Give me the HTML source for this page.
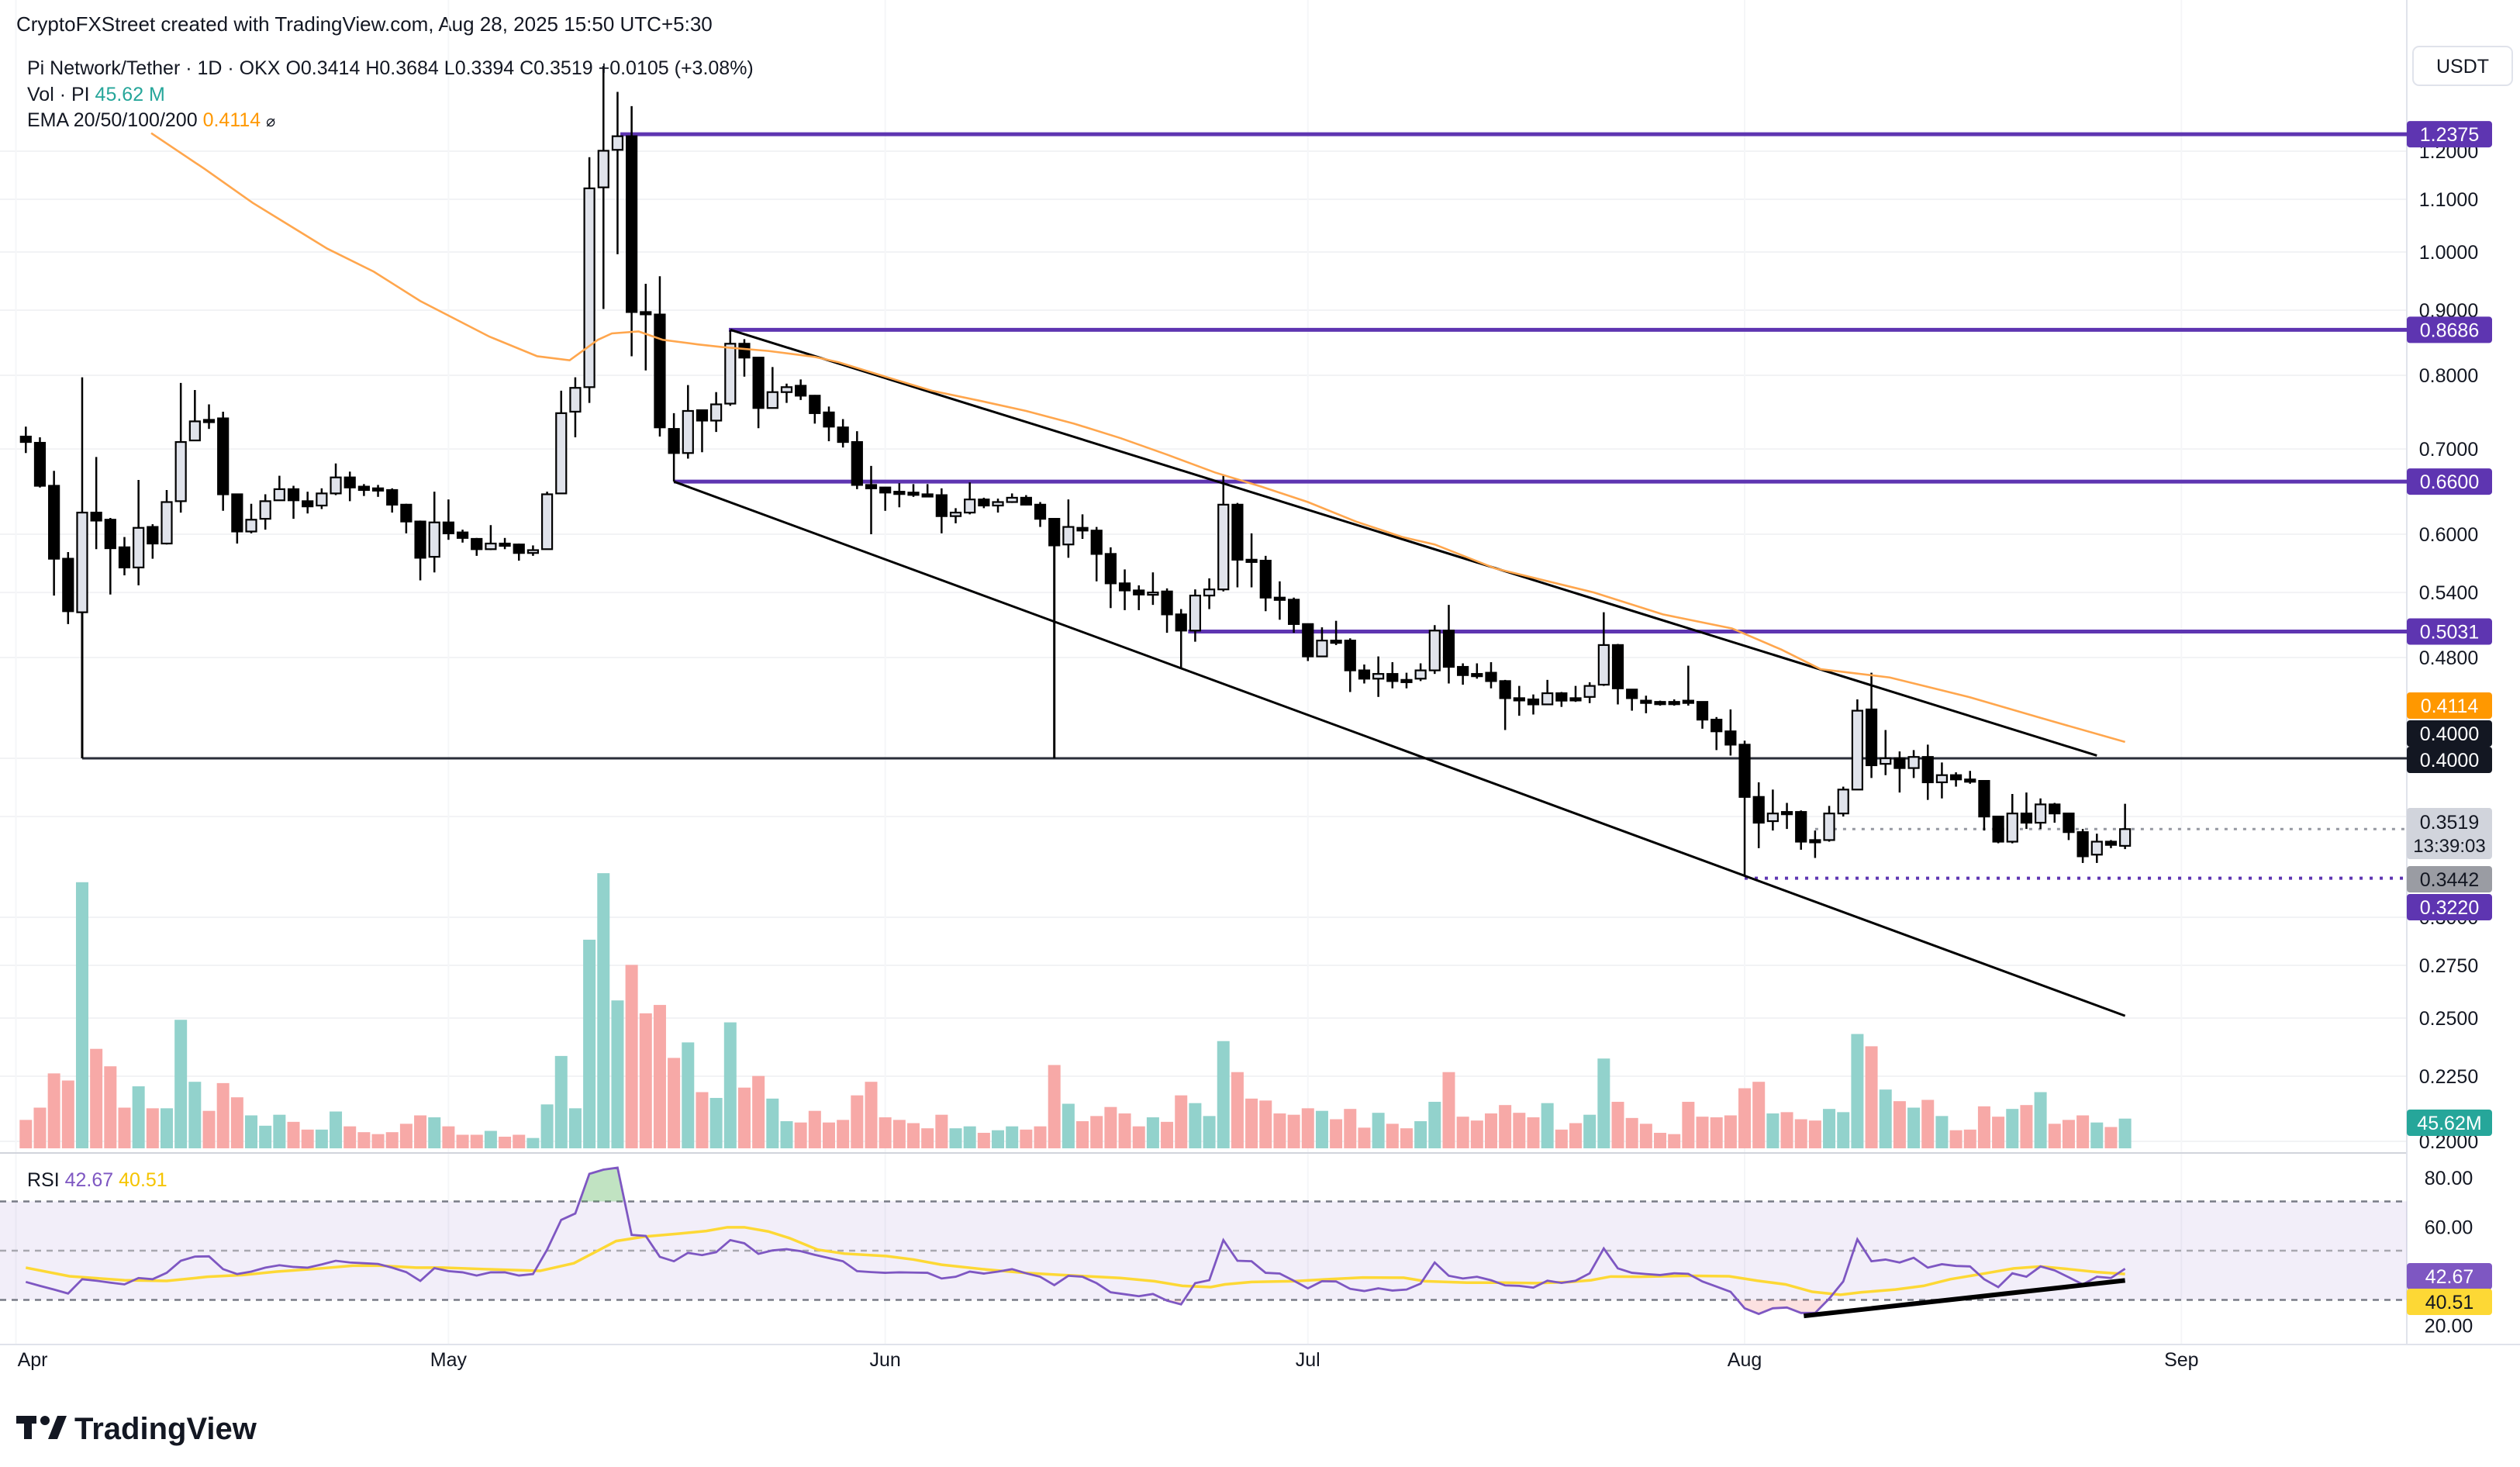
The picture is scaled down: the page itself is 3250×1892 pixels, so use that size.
<!DOCTYPE html>
<html><head><meta charset="utf-8"><style>
html,body{margin:0;padding:0;background:#fff;}
svg{display:block;font-family:"Liberation Sans",sans-serif;}
</style></head><body>
<svg id="chart" xmlns="http://www.w3.org/2000/svg" width="3250" height="1892" viewBox="0 0 3250 1892">
<rect x="0" y="0" width="3250" height="1892" fill="#ffffff"/>
<text x="21" y="40" font-size="26" fill="#131722">CryptoFXStreet created with TradingView.com, Aug 28, 2025 15:50 UTC+5:30</text>
<g id="grid"></g>
<g id="rsiPane"></g>
<g id="volume"></g>
<g id="drawings"></g>
<g id="candles"></g>
<g id="overlay"></g>
<g id="axis"></g>
<text x="35" y="96" font-size="25" fill="#131722">Pi Network/Tether · 1D · OKX  <tspan>O0.3414</tspan>  <tspan>H0.3684</tspan>  <tspan>L0.3394</tspan>  <tspan>C0.3519</tspan>  <tspan>+0.0105 (+3.08%)</tspan></text>
<text x="35" y="130" font-size="25" fill="#131722">Vol · PI  <tspan fill="#26a69a">45.62 M</tspan></text>
<text x="35" y="163" font-size="25" fill="#131722">EMA 20/50/100/200  <tspan fill="#ff9800">0.4114</tspan>  <tspan font-size="20">⌀</tspan></text>
<text x="35" y="1530" font-size="25" fill="#131722">RSI  <tspan fill="#7e57c2">42.67</tspan>  <tspan fill="#f5c400">40.51</tspan></text>
<rect x="3112" y="60" width="128" height="50" rx="8" fill="#fff" stroke="#e0e3eb" stroke-width="2"/>
<text x="3176" y="94" font-size="25" text-anchor="middle" fill="#131722">USDT</text>
<g>
<rect x="21" y="1826" width="26" height="10" fill="#131722"/><rect x="31" y="1826" width="10" height="30" fill="#131722"/><circle cx="58" cy="1832" r="6" fill="#131722"/><polygon points="62,1856 74,1826 86,1826 74,1856" fill="#131722"/>
<text x="96" y="1856" font-size="40" font-weight="bold" fill="#131722">TradingView</text>
</g>
</svg>
<script>
// ---------- data ----------
const openP=[.716,.708,.655,.574,.521,.624,.616,.586,.565,.608,.590,.637,.711,.738,.740,.645,.603,.617,.638,.651,.637,.632,.646,.665,.654,.652,.650,.633,.614,.576,.613,.602,.595,.584,.590,.589,.580,.584,.646,.749,.783,1.124,1.203,1.233,.897,.893,.726,.695,.751,.737,
.760,.847,.826,.754,.776,.785,.771,.748,.728,.709,.656,.653,.648,.647,.645,.644,.620,.624,.639,.632,.636,.641,.633,.617,.589,.607,.604,.579,.549,.542,.538,.541,.519,.504,.537,.543,.633,.573,.572,.535,.533,.510,.481,.495,.495,.469,.462,.466,.461,.462,
.469,.504,.472,.466,.467,.460,.446,.445,.441,.450,.446,.447,.457,.491,.453,.444,.443,.443,.444,.443,.429,.420,.410,.373,.357,.363,.363,.345,.345,.362,.378,.437,.396,.400,.393,.401,.383,.388,.385,.384,.360,.344,.362,.356,.368,.362,.350,.336,.344,.3414];
const highP=[.729,.715,.673,.581,.797,.690,.618,.597,.662,.611,.650,.789,.779,.759,.749,.645,.634,.645,.667,.655,.648,.652,.682,.672,.657,.656,.652,.634,.615,.648,.639,.605,.596,.610,.596,.590,.588,.648,.778,.797,1.187,1.40,1.336,1.302,.944,.957,.747,.786,.752,.776,
.868,.854,.827,.812,.788,.794,.772,.756,.739,.723,.679,.653,.658,.657,.657,.652,.629,.659,.641,.640,.646,.644,.636,.617,.639,.622,.608,.586,.563,.547,.560,.544,.524,.543,.554,.667,.635,.601,.577,.551,.535,.510,.507,.513,.497,.474,.481,.476,.467,.475,
.509,.528,.475,.475,.476,.461,.456,.449,.461,.451,.456,.459,.521,.492,.453,.448,.444,.445,.473,.443,.431,.437,.413,.383,.378,.369,.364,.351,.367,.380,.445,.467,.421,.405,.406,.410,.397,.390,.391,.384,.360,.375,.376,.372,.369,.362,.352,.349,.345,.3684];
const lowP=[.695,.653,.537,.510,.521,.584,.538,.557,.547,.574,.589,.624,.711,.726,.626,.590,.601,.605,.638,.617,.623,.628,.644,.637,.643,.642,.624,.601,.552,.560,.594,.591,.577,.583,.584,.572,.577,.584,.646,.715,.761,.902,.996,.828,.807,.716,.660,.688,.696,.722,
.757,.798,.727,.754,.761,.765,.733,.710,.702,.651,.600,.626,.630,.642,.642,.601,.612,.622,.629,.624,.635,.632,.608,.588,.575,.595,.551,.525,.523,.523,.528,.502,.471,.494,.524,.541,.545,.545,.522,.514,.502,.477,.481,.491,.451,.458,.447,.454,.454,.460,
.466,.458,.457,.462,.454,.421,.432,.433,.441,.439,.443,.442,.456,.441,.436,.434,.440,.440,.440,.422,.406,.402,.323,.340,.351,.352,.339,.334,.344,.360,.378,.386,.388,.376,.386,.371,.372,.380,.382,.351,.343,.343,.352,.352,.356,.345,.331,.331,.340,.3394];
const closeP=[.709,.655,.574,.522,.624,.615,.585,.565,.607,.590,.636,.709,.736,.737,.645,.603,.616,.637,.651,.638,.631,.646,.665,.653,.650,.651,.633,.614,.575,.613,.601,.596,.584,.590,.589,.580,.583,.645,.747,.782,1.122,1.201,1.233,.897,.896,.728,.695,.750,.737,.759,
.847,.826,.754,.776,.783,.771,.747,.729,.709,.656,.652,.647,.647,.646,.644,.620,.624,.639,.632,.636,.641,.633,.617,.588,.608,.604,.579,.549,.542,.538,.540,.519,.504,.537,.543,.633,.573,.572,.535,.534,.510,.481,.495,.494,.469,.462,.466,.460,.460,.469,
.504,.472,.465,.465,.460,.446,.445,.441,.450,.444,.445,.456,.491,.454,.446,.443,.442,.442,.443,.429,.420,.410,.373,.356,.362,.362,.344,.344,.362,.378,.436,.395,.400,.393,.401,.383,.388,.385,.384,.360,.344,.362,.356,.368,.362,.350,.335,.344,.342,.3519];
const volumeM=[44,63,116,105,412,154,127,63,96,62,62,199,103,58,101,79,51,35,52,41,29,29,57,34,25,22,25,38,51,48,34,21,21,27,18,21,16,68,143,62,323,426,229,284,209,222,140,164,87,78,
195,94,112,77,42,40,58,40,44,82,103,48,44,39,31,52,31,34,24,28,34,29,34,129,69,42,50,64,54,34,48,41,82,70,50,166,118,77,74,54,52,62,58,45,61,32,55,38,31,42,
72,118,49,43,54,67,55,48,70,29,39,52,139,72,47,38,24,22,72,49,48,51,93,103,54,56,45,43,61,56,177,158,91,73,63,75,50,28,29,65,49,61,67,87,38,44,51,40,33,46];
const rsiVal=[37.3,35.7,34.2,32.6,38.4,37.8,37.0,36.3,38.9,38.4,41.0,45.9,47.6,47.7,42.5,40.5,41.5,43.1,44.1,43.4,43.1,44.4,45.9,45.2,44.9,44.6,43.1,41.3,37.7,42.9,41.7,41.2,39.9,41.2,41.2,39.9,40.5,50.4,62.5,65.1,81.2,82.9,83.7,56.4,56.0,47.5,45.7,49.1,48.2,49.4,
54.3,53.0,48.7,50.1,50.6,49.8,48.3,47.0,45.7,41.7,41.3,41.0,41.2,41.1,41.0,38.7,39.4,41.5,40.7,41.5,42.5,40.8,39.4,36.0,39.8,39.4,36.8,33.1,32.3,31.5,32.4,29.7,28.2,36.8,38.0,54.3,45.9,45.7,41.0,40.7,37.8,34.7,37.6,37.5,34.5,33.6,34.7,33.8,34.2,36.6,
45.2,39.8,38.7,39.4,38.0,35.9,35.7,35.0,37.8,36.9,37.8,40.8,50.9,42.8,41.0,40.5,40.1,40.8,40.6,37.5,35.4,33.3,26.6,24.3,26.6,26.9,24.7,24.7,30.5,37.5,54.6,45.7,46.4,45.2,47.1,43.1,44.5,43.8,43.6,38.4,35.2,40.8,39.4,43.6,42.0,39.2,36.3,39.4,38.9,42.67];
const rsiMaIdx=[0,3.1,7.0,10.0,12.9,15.4,17.8,20.3,23.2,25.2,27.7,29.6,32.6,36.5,38.9,40.4,41.9,43.9,46.3,48.3,49.8,51.0,52.7,54.2,56.2,58.1,61.1,63.0,65.0,67.9,70.9,73.3,77.7,80.1,82.1,84.1,85.1,87.0,90.0,92.4,94.9,97.8,99.3,102.3,104.7,107.2,109.6,111.1,112.5,114.5,117.9,120.9,122.9,124.9,126.8,128.8,130.3,132.7,134.7,136.6,139.1,141.1,143.0,145.0,147.0,149];
const rsiMaVal=[43.1,39.6,38.0,37.7,39.4,40.1,41.5,42.5,43.9,43.9,43.1,43.1,42.5,41.8,44.9,49.4,53.9,55.7,56.9,58.0,59.5,59.5,57.8,55.1,50.4,48.8,47.8,46.4,44.3,42.5,41.0,40.2,38.9,37.6,35.7,35.2,36.3,37.3,37.6,38.4,39.1,39.0,37.6,37.0,37.0,36.8,37.3,38.0,39.5,39.4,39.8,39.6,37.8,36.3,33.3,32.1,33.1,34.2,35.7,38.4,40.8,42.8,43.6,42.5,41.3,40.51];
const emaIdx=[8.9,12.7,16.1,21.4,24.7,28.0,32.9,36.3,38.6,40.6,41.6,43.5,45.2,47.7,49.4,52.7,56.0,57.7,61.0,64.3,67.7,71.0,74.4,77.7,81.0,84.4,87.7,91.0,94.4,97.7,100.0,104.3,111.3,116.2,121.1,124.6,127.4,132.3,137.9,142.8,149];
const emaVal=[1.24,1.162,1.093,1.006,0.965,0.915,0.858,0.828,0.822,0.853,0.863,0.866,0.853,0.846,0.842,0.836,0.827,0.819,0.798,0.778,0.764,0.750,0.733,0.714,0.693,0.671,0.654,0.636,0.614,0.597,0.589,0.564,0.540,0.519,0.506,0.487,0.470,0.463,0.447,0.431,0.412];
const priceTicks=[1.2,1.1,1.0,0.9,0.8,0.7,0.6,0.54,0.48,0.4,0.36,0.3,0.275,0.25,0.225,0.2];
const rsiTicks=[80,60,40,20];
const monthLabels=["Apr","May","Jun","Jul","Aug","Sep"];
const monthIdx=[-0.7,30,61,91,122,153];
const hLevels=[1.2375,0.8686,0.66,0.5031];
const hLevelStart=[42.2,49.9,46,82.5];
const rsiTrendIdx=[126.2,149];
const rsiTrendVal=[23.5,37.9];

// ---------- scales ----------
const NS="http://www.w3.org/2000/svg";
const RIGHT=3104;
function xOf(k){return 33.3+18.17*k;}
function yP(p){return 978-712.7*Math.log(p/0.4);}
function yV(m){return 1481-m*0.833;}
function yR(v){return 1613-(v-50)*3.175;}
function mk(tag,attrs,parent){const e=document.createElementNS(NS,tag);for(const a in attrs)e.setAttribute(a,attrs[a]);parent.appendChild(e);return e;}
const G=id=>document.getElementById(id);

// grid
const grid=G('grid');
priceTicks.forEach(p=>{const l=mk('line',{x1:0,x2:RIGHT,y1:yP(p),y2:yP(p),stroke:'#f2f3f5','stroke-width':2},grid);

});
monthIdx.forEach(k=>{const l=mk('line',{x1:xOf(k),x2:xOf(k),y1:0,y2:1735,stroke:'#f5f6f8','stroke-width':2},grid);

});
let sep=mk('line',{x1:0,x2:RIGHT,y1:1487,y2:1487,stroke:'#d1d4dc','stroke-width':2},grid);


let bax=mk('line',{x1:0,x2:3250,y1:1734,y2:1734,stroke:'#e0e3eb','stroke-width':2},grid);


let rax=mk('line',{x1:RIGHT,x2:RIGHT,y1:0,y2:1734,stroke:'#e0e3eb','stroke-width':2},grid);



// RSI pane
const rp=G('rsiPane');
let band=mk('rect',{x:0,y:yR(70),width:RIGHT,height:yR(30)-yR(70),fill:'#7e57c2','fill-opacity':0.1},rp);


[70,50,30].forEach(v=>{const l=mk('line',{x1:0,x2:RIGHT,y1:yR(v),y2:yR(v),stroke:v==50?'#a8a8b0':'#787b86','stroke-width':2.5,'stroke-dasharray':'8 7'},rp);

});
function zoneFill(th,above,color){let pts=[];for(let k=0;k<rsiVal.length;k++){const v=rsiVal[k];const on=above?v>th:v<th;if(on){pts.push(k);} }
 if(!pts.length)return;let groups=[],cur=[pts[0]];for(let i=1;i<pts.length;i++){if(pts[i]==pts[i-1]+1)cur.push(pts[i]);else{groups.push(cur);cur=[pts[i]];}}groups.push(cur);
 groups.forEach(g=>{let a=g[0]-1,b=g[g.length-1]+1;let d='';const fx=(k0,k1)=>{const v0=rsiVal[k0],v1=rsiVal[k1];const t=(th-v0)/(v1-v0);return xOf(k0+t*(k1-k0));};
  d+='M'+fx(a,a+1)+','+yR(th);g.forEach(k=>{d+=' L'+xOf(k)+','+yR(rsiVal[k]);});d+=' L'+fx(b-1,b)+','+yR(th)+'Z';
  const p=mk('path',{d:d,fill:color,'fill-opacity':0.35},rp);
  
  });}
zoneFill(70,true,'#4caf50');zoneFill(30,false,'#f7a9a7');
let dMa=rsiMaIdx.map((k,i)=>(i?'L':'M')+xOf(k)+','+yR(rsiMaVal[i])).join(' ');
let ma=mk('path',{d:dMa,fill:'none',stroke:'#fdd835','stroke-width':3.5},rp);


let dR=rsiVal.map((v,k)=>(k?'L':'M')+xOf(k)+','+yR(v)).join(' ');
let rl=mk('path',{d:dR,fill:'none',stroke:'#7e57c2','stroke-width':2.8},rp);


let rtl=mk('line',{x1:xOf(rsiTrendIdx[0]),y1:yR(rsiTrendVal[0]),x2:xOf(rsiTrendIdx[1]),y2:yR(rsiTrendVal[1]),stroke:'#000','stroke-width':6},rp);



// volume
const vg=G('volume');
volumeM.forEach((m,k)=>{const up=closeP[k]>=openP[k];const r=mk('rect',{x:xOf(k)-8,y:yV(m),width:16,height:1481-yV(m),fill:up?'#92d2cc':'#f7a9a7'},vg);

});

// drawings
const dg=G('drawings');
hLevels.forEach((p,i)=>{const l=mk('line',{x1:xOf(hLevelStart[i]),x2:RIGHT,y1:yP(p),y2:yP(p),stroke:'#5e35b1','stroke-width':5},dg);

});
let l322=mk('line',{x1:xOf(122),x2:RIGHT,y1:yP(0.322),y2:yP(0.322),stroke:'#5e35b1','stroke-width':4,'stroke-dasharray':'4 9'},dg);


let l40=mk('line',{x1:xOf(4),x2:RIGHT,y1:yP(0.4),y2:yP(0.4),stroke:'#2a2e39','stroke-width':3},dg);


let v1=mk('line',{x1:xOf(4),x2:xOf(4),y1:yP(lowP[4]),y2:yP(0.4),stroke:'#000','stroke-width':3},dg);


let v2=mk('line',{x1:xOf(73),x2:xOf(73),y1:yP(lowP[73]),y2:yP(0.4),stroke:'#000','stroke-width':3},dg);


let up=mk('line',{x1:xOf(50),y1:yP(0.8686),x2:xOf(147),y2:yP(0.402),stroke:'#000','stroke-width':3},dg);


let lo=mk('line',{x1:xOf(46),y1:yP(0.66),x2:xOf(149),y2:yP(0.251),stroke:'#000','stroke-width':3},dg);


let cp=mk('line',{x1:xOf(127),x2:RIGHT,y1:yP(closeP[149]),y2:yP(closeP[149]),stroke:'#9598a1','stroke-width':3,'stroke-dasharray':'4 8'},dg);



// candles
const cg=G('candles');
for(let k=0;k<openP.length;k++){const x=xOf(k);const upc=closeP[k]>=openP[k];
 const w=mk('line',{x1:x,x2:x,y1:yP(highP[k]),y2:yP(lowP[k]),stroke:'#000','stroke-width':2.5},cg);
 
 
 let yt=yP(Math.max(openP[k],closeP[k])),yb=yP(Math.min(openP[k],closeP[k]));if(yb-yt<3){yb=yt+3;}
 const b=mk('rect',{x:x-6.5,y:yt,width:13,height:yb-yt,fill:upc?'#e0e3eb':'#000',stroke:'#000','stroke-width':2.2},cg);
 
 }

// EMA
const og=G('overlay');
let dE=emaIdx.map((k,i)=>(i?'L':'M')+xOf(k)+','+yP(emaVal[i])).join(' ');
let em=mk('path',{d:dE,fill:'none',stroke:'#ffa64d','stroke-width':2.6},og);



// axis labels
const ax=G('axis');
priceTicks.forEach(p=>{const t=mk('text',{x:3158,y:yP(p)+9,'font-size':25,'text-anchor':'middle',fill:'#131722'},ax);t.textContent=p.toFixed(4);

});
rsiTicks.forEach(v=>{const t=mk('text',{x:3158,y:yR(v)+10,'font-size':25,'text-anchor':'middle',fill:'#131722'},ax);t.textContent=v.toFixed(2);

});
monthLabels.forEach((m,i)=>{const t=mk('text',{x:xOf(monthIdx[i])+(i==0?2:0),y:1762,'font-size':25,'text-anchor':i==0?'start':'middle',fill:'#131722'},ax);t.textContent=m;

});
function box(y,txt,bg,fg,name,h){h=h||34;const r=mk('rect',{x:3104,y:y-h/2,width:110,height:h,rx:4,fill:bg},ax);


const t=mk('text',{x:3159,y:y+9,'font-size':25,'text-anchor':'middle',fill:fg},ax);t.textContent=txt;

}
box(yP(1.2375),'1.2375','#5e35b1','#fff','level-label-1.2375');
box(yP(0.8686),'0.8686','#5e35b1','#fff','level-label-0.8686');
box(yP(0.66),'0.6600','#5e35b1','#fff','level-label-0.66');
box(yP(0.5031),'0.5031','#5e35b1','#fff','level-label-0.5031');
box(910,'0.4114','#ff9800','#fff','ema-price-label');
box(946,'0.4000','#131722','#fff','line-label-0.40');
box(980,'0.4000','#131722','#fff','support-label-0.40');
let cb=mk('rect',{x:3104,y:1042,width:110,height:66,rx:4,fill:'#d1d4dc'},ax);


let ct=mk('text',{x:3159,y:1069,'font-size':25,'text-anchor':'middle',fill:'#131722'},ax);ct.textContent='0.3519';


let cd=mk('text',{x:3159,y:1099,'font-size':24,'text-anchor':'middle',fill:'#131722'},ax);cd.textContent='13:39:03';


box(1134,'0.3442','#9a9ca3','#131722','price-label-0.3442');
box(1170,'0.3220','#5e35b1','#fff','level-label-0.322');
box(1448,'45.62M','#26a69a','#fff','volume-label');
box(1646,'42.67','#7e57c2','#fff','rsi-value-label');
box(1679,'40.51','#fdd835','#131722','rsi-ma-value-label');
</script>
</body></html>
